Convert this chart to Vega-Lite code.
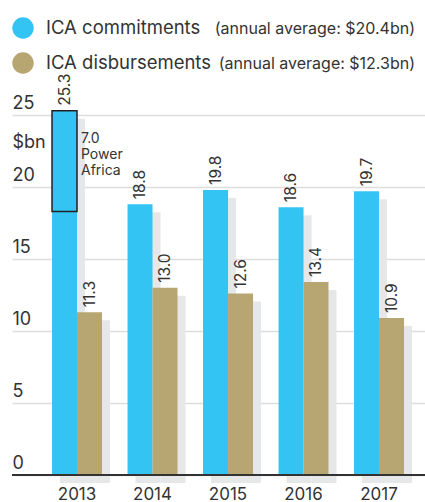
{
  "$schema": "https://vega.github.io/schema/vega-lite/v6.json",
  "width": 413,
  "height": 360,
  "autosize": {"type": "none"},
  "padding": {"left": 12, "top": 115, "right": 0, "bottom": 27},
  "background": "white",
  "config": {
    "view": {"stroke": null},
    "font": "Inter",
    "axis": {"labelFont": "Inter", "labelColor": "#333333", "titleFont": "Inter", "titleColor": "#333333"},
    "legend": {"labelFont": "Inter", "labelColor": "#333333"}
  },
  "data": {
    "values": [
      {"year": "2013", "series": "ICA commitments", "avg": "(annual average: $20.4bn)", "value": 25.3},
      {"year": "2013", "series": "ICA disbursements", "avg": "(annual average: $12.3bn)", "value": 11.3},
      {"year": "2014", "series": "ICA commitments", "avg": "(annual average: $20.4bn)", "value": 18.8},
      {"year": "2014", "series": "ICA disbursements", "avg": "(annual average: $12.3bn)", "value": 13.0},
      {"year": "2015", "series": "ICA commitments", "avg": "(annual average: $20.4bn)", "value": 19.8},
      {"year": "2015", "series": "ICA disbursements", "avg": "(annual average: $12.3bn)", "value": 12.6},
      {"year": "2016", "series": "ICA commitments", "avg": "(annual average: $20.4bn)", "value": 18.6},
      {"year": "2016", "series": "ICA disbursements", "avg": "(annual average: $12.3bn)", "value": 13.4},
      {"year": "2017", "series": "ICA commitments", "avg": "(annual average: $20.4bn)", "value": 19.7},
      {"year": "2017", "series": "ICA disbursements", "avg": "(annual average: $12.3bn)", "value": 10.9}
    ]
  },
  "layer": [
    {
      "transform": [{"filter": "datum.series == 'ICA commitments'"}],
      "mark": {"type": "bar", "color": "#e6e7e8", "width": 25, "xOffset": -4.5, "yOffset": 8, "y2Offset": 8},
      "encoding": {
        "x": {"field": "year", "type": "nominal", "title": null,
              "scale": {"paddingInner": 0.338, "paddingOuter": 0.404, "align": 0.656},
              "axis": {"labelAngle": 0, "labelFontSize": 17, "labelPadding": 11, "domain": false, "ticks": false, "tickSize": 0}},
        "y": {"field": "value", "type": "quantitative", "title": "$bn",
              "scale": {"domain": [0, 25], "nice": false, "zero": true},
              "axis": {"values": [0, 5, 10, 15, 20, 25], "grid": true, "gridColor": "#dddddd", "gridWidth": 1.5,
                       "domain": false, "ticks": false, "tickSize": 0, "labelAlign": "left", "labelBaseline": "alphabetic",
                       "labelPadding": 0, "labelOffset": -7, "labelFontSize": 18,
                       "titleAngle": 0, "titleAlign": "left", "titleBaseline": "alphabetic",
                       "titleX": 0, "titleY": 32, "titleFontSize": 18, "titleFontWeight": "normal"}}
      }
    },
    {
      "transform": [{"filter": "datum.series == 'ICA disbursements'"}],
      "mark": {"type": "bar", "color": "#e6e7e8", "width": 25, "xOffset": 20.5, "yOffset": 8, "y2Offset": 8},
      "encoding": {
        "x": {"field": "year", "type": "nominal", "title": null},
        "y": {"field": "value", "type": "quantitative", "title": "$bn"}
      }
    },
    {
      "mark": {"type": "bar"},
      "encoding": {
        "x": {"field": "year", "type": "nominal", "title": null},
        "xOffset": {"field": "series", "type": "nominal", "sort": ["ICA commitments", "ICA disbursements"]},
        "y": {"field": "value", "type": "quantitative", "title": "$bn"},
        "color": {"field": "series", "type": "nominal",
                  "scale": {"domain": ["ICA commitments", "ICA disbursements"], "range": ["#33c4f3", "#b8a672"]},
                  "legend": {"orient": "none", "legendX": 0, "legendY": -98, "title": null, "symbolType": "circle",
                             "symbolSize": 460, "symbolStrokeWidth": 0, "labelFontSize": 18.5, "labelOffset": 12,
                             "rowPadding": 13, "labelLimit": 0}}
      }
    },
    {
      "mark": {"type": "point", "opacity": 0},
      "encoding": {
        "x": {"field": "year", "type": "nominal", "title": null},
        "y": {"field": "value", "type": "quantitative", "title": "$bn"},
        "shape": {"field": "avg", "type": "nominal",
                  "scale": {"domain": ["(annual average: $20.4bn)", "(annual average: $12.3bn)"], "range": ["circle", "circle"]},
                  "legend": {"orient": "none", "legendX": 381, "legendY": -97, "title": null, "symbolSize": 460,
                             "symbolOpacity": 0, "symbolStrokeWidth": 0, "labelFontSize": 16, "labelOffset": 0,
                             "labelAlign": "right", "rowPadding": 13, "labelLimit": 0}}
      }
    },
    {
      "data": {"values": [{"year": "2013", "series": "ICA commitments", "top": 25.3, "bottom": 18.3}]},
      "mark": {"type": "bar", "color": "#33c4f3", "stroke": "#222222", "strokeWidth": 1.5},
      "encoding": {
        "x": {"field": "year", "type": "nominal", "title": null},
        "xOffset": {"field": "series", "type": "nominal", "sort": ["ICA commitments", "ICA disbursements"]},
        "y": {"field": "top", "type": "quantitative", "title": "$bn"},
        "y2": {"field": "bottom"}
      }
    },
    {
      "mark": {"type": "text", "angle": 270, "align": "left", "baseline": "middle", "dx": 5, "fontSize": 15.5, "color": "#333333"},
      "encoding": {
        "x": {"field": "year", "type": "nominal", "title": null},
        "xOffset": {"field": "series", "type": "nominal", "sort": ["ICA commitments", "ICA disbursements"]},
        "y": {"field": "value", "type": "quantitative", "title": "$bn"},
        "text": {"field": "value", "type": "quantitative", "format": ".1f"}
      }
    },
    {
      "data": {"values": [{"year": "2013", "series": "ICA disbursements", "pos": 23.8, "note": ["7.0", "Power", "Africa"]}]},
      "mark": {"type": "text", "align": "left", "baseline": "top", "dx": -8.5, "fontSize": 14, "lineHeight": 16, "color": "#333333"},
      "encoding": {
        "x": {"field": "year", "type": "nominal", "title": null},
        "xOffset": {"field": "series", "type": "nominal", "sort": ["ICA commitments", "ICA disbursements"]},
        "y": {"field": "pos", "type": "quantitative", "title": "$bn"},
        "text": {"field": "note"}
      }
    },
    {
      "mark": {"type": "rule", "color": "#333333", "strokeWidth": 1.5},
      "encoding": {"y": {"datum": 0, "type": "quantitative", "title": "$bn"}}
    }
  ]
}
